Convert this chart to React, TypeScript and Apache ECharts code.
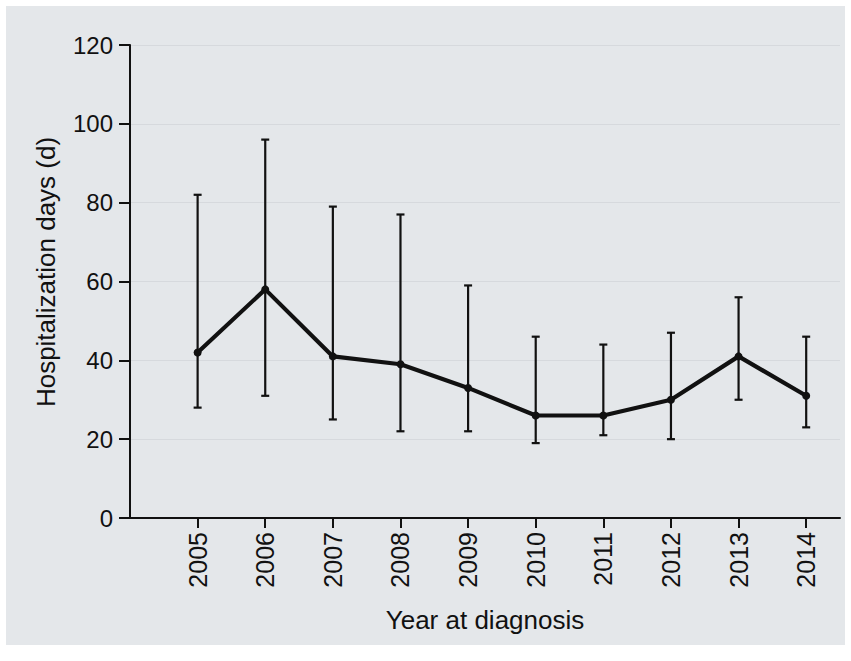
import React, { useEffect, useRef } from "react";
import * as echarts from "echarts";

const years = [2005, 2006, 2007, 2008, 2009, 2010, 2011, 2012, 2013, 2014];
const meanDays = [42, 58, 41, 39, 33, 26, 26, 30, 41, 31];
const upperDays = [82, 96, 79, 77, 59, 46, 44, 47, 56, 46];
const lowerDays = [28, 31, 25, 22, 22, 19, 21, 20, 30, 23];
const yTicks = [0, 20, 40, 60, 80, 100, 120];
const yTitle = "Hospitalization days (d)";
const xTitle = "Year at diagnosis";

const FONT = "'Liberation Sans', Arial, Helvetica, sans-serif";
const INK = "#111111";

export default function App() {
  const ref = useRef<HTMLDivElement>(null);

  useEffect(() => {
    if (!ref.current) return;
    const chart = echarts.init(ref.current, undefined, { renderer: "svg" });

    const lineData = years.map((y, i) => [y, meanDays[i]]);
    const errData = years.map((y, i) => [y, lowerDays[i], upperDays[i]]);

    chart.setOption({
      animation: false,
      backgroundColor: "transparent",
      grid: { left: 130, right: 11, top: 45, bottom: 143, containLabel: false },
      graphic: [
        {
          type: "text",
          x: 46,
          y: 272,
          rotation: Math.PI / 2,
          style: {
            text: yTitle,
            font: `26px ${FONT}`,
            fill: INK,
            align: "center",
            verticalAlign: "middle",
          },
        },
      ],
      xAxis: {
        type: "value",
        min: 2004,
        max: 2014.5,
        interval: 1,
        name: xTitle,
        nameLocation: "middle",
        nameGap: 89,
        nameTextStyle: { fontFamily: FONT, fontSize: 26, color: INK },
        axisLine: { show: true, lineStyle: { color: INK, width: 2 } },
        axisTick: {
          show: true,
          length: 10,
          lineStyle: { color: INK, width: 2 },
          customValues: years,
        },
        axisLabel: {
          show: true,
          rotate: 90,
          margin: 14,
          fontFamily: FONT,
          fontSize: 25,
          color: INK,
          customValues: years,
          formatter: (v: number) => String(v),
        },
        splitLine: { show: false },
      },
      yAxis: {
        type: "value",
        min: 0,
        max: 120,
        interval: 20,
        axisLine: { show: true, lineStyle: { color: INK, width: 2 } },
        axisTick: { show: true, length: 11, lineStyle: { color: INK, width: 2 } },
        axisLabel: {
          margin: 17,
          fontFamily: FONT,
          fontSize: 24,
          color: INK,
          formatter: (v: number) => (yTicks.includes(v) ? String(v) : ""),
        },
        splitLine: { show: true, lineStyle: { color: "#d6d9dd", width: 1 } },
      },
      series: [
        {
          type: "custom",
          data: errData,
          encode: { x: 0, y: [1, 2] },
          z: 3,
          renderItem: (params: any, api: any) => {
            const x = api.value(0);
            const lo = api.coord([x, api.value(1)]);
            const hi = api.coord([x, api.value(2)]);
            const hw = 4;
            const style = { stroke: INK, lineWidth: 2.2 };
            return {
              type: "group",
              children: [
                { type: "line", shape: { x1: lo[0], y1: lo[1], x2: hi[0], y2: hi[1] }, style },
                { type: "line", shape: { x1: lo[0] - hw, y1: lo[1], x2: lo[0] + hw, y2: lo[1] }, style },
                { type: "line", shape: { x1: hi[0] - hw, y1: hi[1], x2: hi[0] + hw, y2: hi[1] }, style },
              ],
            };
          },
        },
        {
          type: "line",
          data: lineData,
          z: 4,
          symbol: "circle",
          symbolSize: 8,
          itemStyle: { color: INK },
          lineStyle: { color: INK, width: 4.2 },
        },
      ],
    });

    return () => chart.dispose();
  }, []);

  return (
    <div style={{ position: "fixed", left: 0, top: 0, width: 851, height: 661, background: "#ffffff" }}>
      <div
        style={{
          position: "absolute",
          left: 6,
          top: 6,
          width: 839,
          height: 639,
          background: "#e4e7ea",
        }}
      />
      <div ref={ref} style={{ position: "absolute", left: 0, top: 0, width: 851, height: 661 }} />
    </div>
  );
}
